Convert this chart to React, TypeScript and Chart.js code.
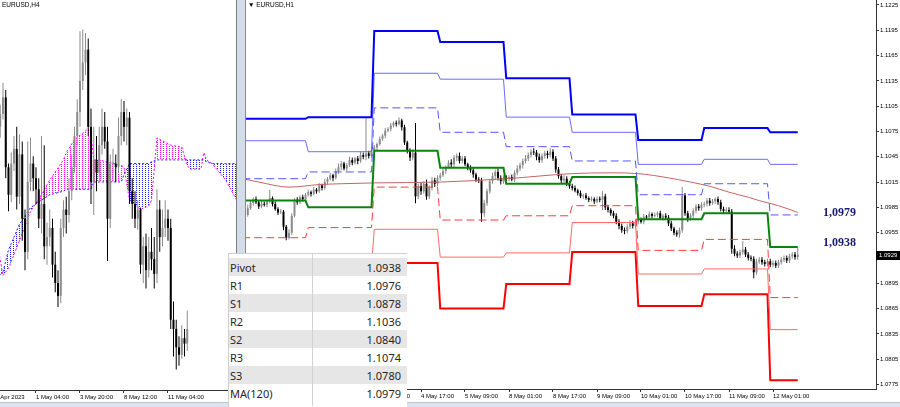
import React, { useEffect, useRef } from 'react';
import { Chart, registerables } from 'chart.js';

Chart.register(...registerables);

// ================= LEFT: EURUSD H4 =================
// bar index k: 0 = 1 May 04:00 (4-hour bars)
const h4FirstBar = -14;
const h4FirstOpen = 1.1036;
const h4Close = [
  1.1040,
  1.1047, 1.1056, 1.1018, 1.1003, 1.1020, 1.1028,
  1.1002, 1.1025, 1.0990, 1.0972, 1.1010, 1.1020,
  1.1012, 1.1006, 1.0990, 1.0998, 1.0975, 1.0980,
  1.0985, 1.0965, 1.0955, 1.0948, 1.0985, 1.0995,
  1.0992, 1.1005, 1.1018, 1.1035, 1.1048, 1.1065,
  1.1075, 1.1082, 1.1040, 1.1010, 1.1022, 1.1015,
  1.1030, 1.1040, 1.1032, 1.0990, 1.1020, 1.1020,
  1.1018, 1.1035, 1.1048, 1.1040, 1.1045, 1.1005,
  1.0998, 1.0990, 1.0995, 1.0965, 1.0975, 1.0962,
  1.0972, 1.0968, 1.0960, 1.0995, 1.0980, 1.0985,
  1.0990, 1.0985, 1.0935, 1.0930, 1.0920, 1.0916,
  1.0925, 1.0922, 1.0930,
];
const h4High = [
  1.1048,
  1.1052, 1.1064, 1.1060, 1.1020, 1.1026, 1.1035,
  1.1040, 1.1036, 1.1032, 1.0995, 1.1032, 1.1034,
  1.1024, 1.1018, 1.1012, 1.1035, 1.1030, 1.0988,
  1.0995, 1.0990, 1.0972, 1.0962, 1.0990, 1.1000,
  1.1002, 1.1012, 1.1025, 1.1040, 1.1055, 1.1092,
  1.1093, 1.1091, 1.1088, 1.1050, 1.1040, 1.1035,
  1.1040, 1.1050, 1.1048, 1.1040, 1.1025, 1.1028,
  1.1025, 1.1045, 1.1055, 1.1054, 1.1050, 1.1048,
  1.1012, 1.1005, 1.1000, 1.0996, 1.0980, 1.0982,
  1.0980, 1.0985, 1.0980, 1.1006, 1.1000, 1.0995,
  1.1000, 1.0995, 1.0990, 1.0945, 1.0935, 1.0926,
  1.0932, 1.0930, 1.0940,
];
const h4Low = [
  1.1030,
  1.1034, 1.1044, 1.1012, 1.0994, 1.0999, 1.1016,
  1.0995, 1.0998, 1.0978, 1.0962, 1.0968, 1.1005,
  1.1005, 1.0998, 1.0985, 1.0982, 1.0968, 1.0965,
  1.0975, 1.0958, 1.0950, 1.0942, 1.0944, 1.0980,
  1.0982, 1.0988, 1.1000, 1.1015, 1.1030, 1.1040,
  1.1060, 1.1068, 1.1035, 1.0998, 1.0992, 1.1005,
  1.1010, 1.1025, 1.1028, 1.0967, 1.0985, 1.1012,
  1.1010, 1.1015, 1.1030, 1.1032, 1.1030, 1.0998,
  1.0990, 1.0985, 1.0984, 1.0960, 1.0955, 1.0952,
  1.0958, 1.0962, 1.0952, 1.0955, 1.0972, 1.0975,
  1.0980, 1.0978, 1.0930, 1.0915, 1.0908, 1.0910,
  1.0914, 1.0915, 1.0918,
];
const h4TickBars = [-16, 0, 16, 32, 48];
const h4TickLabels = ['26 Apr 2023', '1 May 04:00', '3 May 20:00', '8 May 12:00', '11 May 04:00'];
// Ichimoku cloud
const cloudBars = [-14, -12, -10, -6, -2, 2, 5, 10, 11, 14, 19, 20, 21, 23, 31, 32, 34, 38, 41, 42, 44, 49, 53, 55, 56, 60, 61, 62, 64, 69, 73, 75];
const spanA = [1.0976, 1.0959, 1.0963, 1.0978, 1.0994, 1.1003, 1.1011, 1.1022, 1.1026, 1.1033, 1.1039, 1.1036, 1.1022, 1.1022, 1.1019, 1.1018, 1.1000, 1.0995, 1.0997, 1.1000, 1.1034, 1.1030, 1.1029, 1.1019, 1.1017, 1.1017, 1.1026, 1.1022, 1.1020, 1.1011, 1.1000, 1.0994];
const spanB = [1.0958, 1.0961, 1.0973, 1.0987, 1.0996, 1.1000, 1.1003, 1.1005, 1.1006, 1.1006, 1.1006, 1.1006, 1.1010, 1.1010, 1.1010, 1.1014, 1.1020, 1.1020, 1.1020, 1.1021, 1.1022, 1.1022, 1.1022, 1.1022, 1.1022, 1.1022, 1.1022, 1.1021, 1.1020, 1.1020, 1.1020, 1.1020];

// ================= RIGHT: EURUSD H1 =================
// bar index i: 0 = 2 May 00:00 (hourly bars, 24 per day)
const h1FirstOpen = 1.0983;
const h1Close = [
  // 2 May
  1.0980, 1.0976, 1.0984, 1.0990, 1.0995, 1.0991, 1.0986, 1.0989, 1.0988, 1.0992, 1.0996, 1.0989, 1.0983, 1.0979, 1.0980, 1.0962, 1.0949, 1.0955, 1.0975, 1.0994, 1.0991, 1.0997, 1.0995, 1.1000,
  // 3 May
  1.1003, 1.1001, 1.1006, 1.1004, 1.1011, 1.1008, 1.1015, 1.1019, 1.1023, 1.1020, 1.1028, 1.1033, 1.1037, 1.1031, 1.1035, 1.1041, 1.1038, 1.1043, 1.1040, 1.1047, 1.1045, 1.1049, 1.1046, 1.1053,
  // 4 May
  1.1056, 1.1060, 1.1066, 1.1070, 1.1076, 1.1078, 1.1082, 1.1085, 1.1084, 1.1088, 1.1080, 1.1062, 1.1052, 1.1044, 1.1050, 1.0998, 1.1010, 1.1004, 1.1013, 1.0998, 1.1008, 1.1017, 1.1013, 1.1020,
  // 5 May
  1.1023, 1.1028, 1.1033, 1.1038, 1.1036, 1.1044, 1.1046, 1.1040, 1.1043, 1.1036, 1.1032, 1.1029, 1.1024, 1.1018, 1.1017, 1.0978, 1.0990, 1.1004, 1.1016, 1.1022, 1.1027, 1.1020, 1.1016, 1.1020,
  // 8 May
  1.1019, 1.1021, 1.1018, 1.1026, 1.1031, 1.1035, 1.1040, 1.1043, 1.1047, 1.1051, 1.1050, 1.1045, 1.1041, 1.1046, 1.1049, 1.1047, 1.1051, 1.1043, 1.1030, 1.1022, 1.1017, 1.1019, 1.1013, 1.1010,
  // 9 May
  1.1008, 1.1005, 1.1002, 1.0998, 1.0999, 1.0996, 1.0994, 1.0995, 1.0992, 1.0995, 1.0994, 1.0998, 1.0985, 1.0982, 1.0978, 1.0975, 1.0968, 1.0963, 1.0958, 1.0957, 1.0962, 1.0966, 1.0963, 1.0968,
  // 10 May
  1.0970, 1.0968, 1.0974, 1.0973, 1.0977, 1.0975, 1.0976, 1.0978, 1.0972, 1.0975, 1.0973, 1.0966, 1.0960, 1.0955, 1.0953, 1.0958, 1.0999, 1.0978, 1.0972, 1.0975, 1.0981, 1.0986, 1.0984, 1.0988,
  // 11 May
  1.0989, 1.0993, 1.0990, 1.0992, 1.0995, 1.0991, 1.0983, 1.0981, 1.0982, 1.0980, 1.0936, 1.0930, 1.0928, 1.0932, 1.0935, 1.0929, 1.0925, 1.0924, 1.0908, 1.0921, 1.0923, 1.0920, 1.0918, 1.0921,
  // 12 May
  1.0917, 1.0919, 1.0916, 1.0920, 1.0923, 1.0925, 1.0922, 1.0927, 1.0929, 1.0926, 1.0929,
];
// upper / lower shadow lengths in pips
const h1WickUp = [
  3, 2, 4, 3, 2, 3, 2, 4, 3, 2, 10, 2, 3, 2, 3, 2, 2, 4, 3, 2, 3, 2, 3, 2,
  3, 2, 3, 2, 3, 2, 4, 2, 3, 2, 3, 4, 3, 2, 3, 4, 3, 2, 3, 4, 3, 43, 3, 4,
  3, 2, 3, 2, 3, 2, 3, 2, 3, 4, 2, 3, 2, 3, 4, 35, 3, 4, 3, 5, 3, 4, 3, 3,
  3, 3, 2, 3, 4, 3, 3, 4, 3, 3, 2, 3, 3, 2, 3, 3, 4, 3, 3, 4, 3, 4, 3, 3,
  3, 2, 3, 3, 4, 3, 3, 4, 3, 3, 4, 3, 4, 3, 3, 3, 4, 3, 3, 3, 3, 4, 3, 3,
  3, 3, 2, 3, 2, 3, 2, 3, 2, 3, 3, 6, 3, 3, 2, 3, 3, 3, 3, 3, 3, 4, 3, 3,
  3, 3, 3, 2, 3, 2, 3, 2, 3, 2, 3, 3, 3, 2, 3, 3, 10, 3, 3, 3, 3, 3, 3, 3,
  3, 3, 3, 3, 2, 3, 3, 3, 3, 3, 3, 4, 3, 3, 10, 3, 3, 3, 3, 3, 3, 3, 3, 3,
  3, 3, 3, 3, 3, 3, 3, 3, 3, 3, 8,
];
const h1WickDown = [
  2, 3, 2, 2, 3, 2, 3, 2, 2, 3, 2, 3, 2, 3, 2, 4, 3, 2, 3, 2, 3, 2, 3, 2,
  2, 3, 2, 3, 2, 3, 2, 3, 2, 4, 2, 3, 4, 2, 3, 2, 3, 2, 4, 2, 3, 4, 3, 2,
  2, 3, 2, 2, 3, 2, 3, 2, 3, 2, 4, 3, 3, 4, 3, 8, 3, 4, 3, 4, 3, 3, 4, 3,
  3, 2, 3, 2, 3, 3, 4, 3, 3, 2, 3, 3, 4, 3, 3, 10, 4, 3, 3, 3, 4, 3, 4, 3,
  3, 3, 2, 3, 3, 3, 4, 3, 3, 3, 3, 4, 3, 3, 3, 4, 3, 3, 4, 3, 4, 3, 3, 3,
  3, 2, 3, 2, 3, 2, 3, 2, 3, 2, 3, 12, 3, 3, 3, 3, 3, 4, 3, 4, 3, 3, 3, 3,
  3, 2, 3, 3, 2, 3, 2, 3, 2, 3, 3, 3, 3, 3, 3, 4, 3, 3, 4, 3, 3, 3, 3, 3,
  3, 3, 3, 2, 3, 3, 3, 3, 3, 3, 6, 3, 3, 3, 3, 3, 3, 3, 7, 3, 3, 3, 3, 3,
  3, 3, 3, 3, 3, 3, 3, 3, 3, 3, 3,
];
const h1TickBars = [1, 17, 33, 49, 65, 81, 97, 113, 129, 145, 161, 177, 193];
const h1TickLabels = ['2 May 01:00', '2 May 17:00', '3 May 09:00', '4 May 01:00', '4 May 17:00', '5 May 09:00', '8 May 01:00', '8 May 17:00', '9 May 09:00', '10 May 01:00', '10 May 17:00', '11 May 09:00', '12 May 01:00'];
const priceTicks = [1.1225, 1.1195, 1.1165, 1.1135, 1.1105, 1.1075, 1.1045, 1.1015, 1.0985, 1.0955, 1.0925, 1.0895, 1.0865, 1.0835, 1.0805, 1.0775];

// daily pivot levels: 2,3,4,5,8,9,10,11,12 May
const r3 = [1.1090, 1.1092, 1.1194, 1.1181, 1.1138, 1.1095, 1.1065, 1.1079, 1.1074];
const r2 = [1.1064, 1.1051, 1.1144, 1.1137, 1.1092, 1.1074, 1.1036, 1.1042, 1.1036];
const r1 = [1.1019, 1.1027, 1.1103, 1.1074, 1.1057, 1.1040, 1.1000, 1.1013, 1.0976];
const pivot = [1.0993, 1.0985, 1.1052, 1.1032, 1.1013, 1.1021, 1.0971, 1.0978, 1.0938];
const s1 = [1.0949, 1.0961, 1.1009, 1.0970, 1.0975, 1.0987, 1.0934, 1.0947, 1.0878];
const s2 = [1.0910, 1.0915, 1.0959, 1.0926, 1.0931, 1.0967, 1.0906, 1.0912, 1.0840];
const s3 = [1.0880, 1.0870, 1.0919, 1.0865, 1.0894, 1.0932, 1.0868, 1.0882, 1.0780];

// MA(120)
const maBars = [0, 6, 17, 28, 36, 48, 72, 96, 120, 134, 144, 155, 163, 170, 177, 184, 188, 195, 202];
const maValues = [1.1019, 1.1015, 1.1009, 1.1012, 1.1013, 1.1014, 1.1015, 1.1019, 1.1025, 1.1026, 1.1025, 1.1020, 1.1015, 1.1010, 1.1003, 1.0997, 1.0993, 1.0987, 1.0979];

const markTexts = ['1,0979', '1,0938'];
const markValues = [1.0979, 1.0938];

const tableNames = ['Pivot', 'R1', 'S1', 'R2', 'S2', 'R3', 'S3', 'MA(120)'];
const tableValues = ['1.0938', '1.0976', '1.0878', '1.1036', '1.0840', '1.1074', '1.0780', '1.0979'];

// ================= helpers =================
const UP = '#8c8c8c';
const DOWN = '#000000';
const AXIS_FONT = { family: '"Liberation Sans", Arial, sans-serif', size: 6 };

function buildCandles(firstBar: number, firstOpen: number, close: number[], highOf: (n: number, o: number, c: number) => number, lowOf: (n: number, o: number, c: number) => number) {
  const wicks: any[] = [];
  const bodies: any[] = [];
  const colors: string[] = [];
  let open = firstOpen;
  close.forEach((c, n) => {
    const x = firstBar + n;
    const hi = Math.max(highOf(n, open, c), open, c);
    const lo = Math.min(lowOf(n, open, c), open, c);
    wicks.push({ x, y: [lo, hi] });
    bodies.push({ x, y: [Math.min(open, c), Math.max(open, c)] });
    colors.push(c >= open ? UP : DOWN);
    open = c;
  });
  return { wicks, bodies, colors };
}

function stepPoints(levels: number[], lastBar: number) {
  const pts: any[] = [];
  levels.forEach((v, d) => {
    const a = d * 24;
    const b = Math.min(a + 23, lastBar);
    pts.push({ x: a, y: v }, { x: b, y: v });
  });
  return pts;
}

function dotPattern(ctx: CanvasRenderingContext2D, color: string) {
  const c = document.createElement('canvas');
  c.width = 3;
  c.height = 2;
  const g = c.getContext('2d')!;
  g.fillStyle = color;
  g.fillRect(0, 0, 1, 1);
  return ctx.createPattern(c, 'repeat');
}

function zeroPad(s: any) {
  s.paddingLeft = 0;
  s.paddingRight = 0;
  s.paddingTop = 0;
  s.paddingBottom = 0;
}

const LEFT_W = 256;
const RIGHT_W = 655;
const CANVAS_H = 402;

export default function App() {
  const leftRef = useRef<HTMLCanvasElement>(null);
  const rightRef = useRef<HTMLCanvasElement>(null);

  useEffect(() => {
    document.body.style.margin = '0';
    const lc = leftRef.current!;
    const rc = rightRef.current!;
    const lctx = lc.getContext('2d')!;

    // ---------- left chart ----------
    const h4 = buildCandles(h4FirstBar, h4FirstOpen, h4Close, (n) => h4High[n], (n) => h4Low[n]);
    const aPts = cloudBars.map((k, n) => ({ x: k, y: spanA[n] }));
    const bPts = cloudBars.map((k, n) => ({ x: k, y: spanB[n] }));
    const left = new Chart(lc, {
      type: 'bar',
      data: {
        datasets: [
          {
            type: 'line', data: aPts, borderColor: '#ff00ff', borderWidth: 1, borderDash: [2, 2],
            pointRadius: 0, tension: 0, order: 5,
            fill: { target: 1, above: dotPattern(lctx, '#ff00ff'), below: dotPattern(lctx, '#2020ff') },
          } as any,
          {
            type: 'line', data: bPts, borderColor: '#2020ff', borderWidth: 1, borderDash: [2, 2],
            pointRadius: 0, tension: 0, order: 4, fill: false,
          } as any,
          {
            type: 'bar', data: h4.wicks, backgroundColor: h4.colors, barThickness: 1, grouped: false,
            borderWidth: 0, inflateAmount: 0, order: 2,
          } as any,
          {
            type: 'bar', data: h4.bodies, backgroundColor: h4.colors, barThickness: 2, grouped: false,
            borderWidth: 0, inflateAmount: 0, minBarLength: 1, order: 1,
          } as any,
        ],
      },
      options: {
        responsive: false, animation: false, devicePixelRatio: 1, events: [],
        layout: { padding: 0 },
        plugins: { legend: { display: false }, tooltip: { enabled: false } },
        scales: {
          x: {
            type: 'linear', min: -20.36, max: -20.36 + LEFT_W / 2.75, offset: false, bounds: 'data',
            afterBuildTicks: (s: any) => { s.ticks = h4TickBars.map((v) => ({ value: v })); },
            afterFit: (s: any) => { s.height = CANVAS_H - 390; zeroPad(s); },
            ticks: {
              autoSkip: false, maxRotation: 0, minRotation: 0, align: 'start', padding: 1,
              color: '#000', font: AXIS_FONT,
              callback: (_v: any, idx: number) => h4TickLabels[idx],
            },
            grid: { drawOnChartArea: false, drawTicks: true, tickLength: 3, color: '#333', offset: false },
            border: { display: true, color: '#333', width: 1 },
          },
          y: {
            type: 'linear', display: false, min: 1.08968, max: 1.1109, bounds: 'data',
          },
        },
      } as any,
    });

    // ---------- right chart ----------
    const h1 = buildCandles(
      0, h1FirstOpen, h1Close,
      (n, o, c) => Math.max(o, c) + h1WickUp[n] / 10000,
      (n, o, c) => Math.min(o, c) - h1WickDown[n] / 10000,
    );
    const lastBar = h1Close.length - 1;
    const lastClose = h1Close[lastBar];
    const line = (data: any[], color: string, width: number, dash: number[] = []) => ({
      type: 'line', data, borderColor: color, borderWidth: width, borderDash: dash,
      pointRadius: 0, tension: 0, fill: false, order: 0,
    });

    const annotations = {
      id: 'annotations',
      afterDraw(chart: any) {
        const { ctx, chartArea, scales } = chart;
        const y = scales.y;
        ctx.save();
        ctx.font = 'bold 12px "Liberation Serif", "Times New Roman", serif';
        ctx.fillStyle = '#1b1b6e';
        ctx.textAlign = 'left';
        ctx.textBaseline = 'middle';
        markTexts.forEach((t, n) => {
          const dy = n === 1 ? -4 : 0;
          ctx.fillText(t, chartArea.right - 53, y.getPixelForValue(markValues[n]) + dy);
        });
        const py = Math.round(y.getPixelForValue(lastClose));
        ctx.fillStyle = '#000';
        ctx.fillRect(chartArea.right, py - 4, 24, 9);
        ctx.fillStyle = '#fff';
        ctx.font = '6px "Liberation Sans", Arial, sans-serif';
        ctx.fillText(lastClose.toFixed(4), chartArea.right + 3, py + 0.5);
        ctx.restore();
      },
    };

    const right = new Chart(rc, {
      type: 'bar',
      data: {
        datasets: [
          line(stepPoints(r3, lastBar), '#0000ff', 2),
          line(stepPoints(r2, lastBar), '#6a6aff', 1),
          line(stepPoints(r1, lastBar), '#5555ff', 1, [8, 4]),
          line(stepPoints(pivot, lastBar), '#0a840a', 2),
          line(stepPoints(s1, lastBar), '#ff3b3b', 1, [8, 4]),
          line(stepPoints(s2, lastBar), '#ff6a6a', 1),
          line(stepPoints(s3, lastBar), '#ff0000', 2),
          {
            type: 'line', data: maBars.map((b, n) => ({ x: b, y: maValues[n] })), borderColor: '#c46565',
            borderWidth: 1, pointRadius: 0, cubicInterpolationMode: 'monotone', fill: false, order: 0,
          },
          {
            type: 'bar', data: h1.wicks, backgroundColor: h1.colors, barThickness: 1, grouped: false,
            borderWidth: 0, inflateAmount: 0, order: 2,
          },
          {
            type: 'bar', data: h1.bodies, backgroundColor: h1.colors, barThickness: 2, grouped: false,
            borderWidth: 0, inflateAmount: 0, minBarLength: 1, order: 1,
          },
        ] as any,
      },
      options: {
        responsive: false, animation: false, devicePixelRatio: 1, events: [],
        layout: { padding: 0 },
        plugins: { legend: { display: false }, tooltip: { enabled: false } },
        scales: {
          x: {
            type: 'linear', min: 1, max: 1 + (RIGHT_W - 24) / 2.75, offset: false, bounds: 'data',
            afterBuildTicks: (s: any) => { s.ticks = h1TickBars.map((v) => ({ value: v })); },
            afterFit: (s: any) => { s.height = CANVAS_H - 389; zeroPad(s); },
            ticks: {
              autoSkip: false, maxRotation: 0, minRotation: 0, align: 'start', padding: 1,
              color: '#000', font: AXIS_FONT,
              callback: (_v: any, idx: number) => h1TickLabels[idx],
            },
            grid: { drawOnChartArea: false, drawTicks: true, tickLength: 3, color: '#333', offset: false },
            border: { display: true, color: '#333', width: 1 },
          },
          y: {
            type: 'linear', position: 'right', min: 1.07696, max: 1.12309, bounds: 'data',
            afterBuildTicks: (s: any) => { s.ticks = priceTicks.map((v) => ({ value: v })); },
            afterFit: (s: any) => { s.width = 24; zeroPad(s); },
            ticks: {
              autoSkip: false, padding: 1, color: '#000', font: AXIS_FONT,
              callback: (v: any) => Number(v).toFixed(4),
            },
            grid: { drawOnChartArea: false, drawTicks: true, tickLength: 3, color: '#333' },
            border: { display: true, color: '#333', width: 1 },
          },
        },
      } as any,
      plugins: [annotations],
    });

    return () => {
      left.destroy();
      right.destroy();
    };
  }, []);

  const titleStyle: React.CSSProperties = {
    position: 'absolute', top: 0, fontFamily: '"Liberation Sans", Arial, sans-serif', fontSize: 6.5,
    lineHeight: '10px', color: '#000', whiteSpace: 'nowrap',
  };

  return (
    <div style={{ position: 'fixed', left: 0, top: 0, width: 900, height: 407, overflow: 'hidden', background: '#fff' }}>
      <canvas ref={leftRef} width={LEFT_W} height={CANVAS_H} style={{ position: 'absolute', left: -20, top: 0 }} />
      <canvas ref={rightRef} width={RIGHT_W} height={CANVAS_H} style={{ position: 'absolute', left: 245, top: 0 }} />
      <div style={{ ...titleStyle, left: 2 }}>EURUSD,H4</div>
      <div style={{ ...titleStyle, left: 248 }}>▼ EURUSD,H1</div>
      {/* window splitter */}
      <div style={{
        position: 'absolute', left: 236, top: 0, width: 10, height: 403, boxSizing: 'border-box',
        background: '#d3dde9', borderLeft: '1px solid #7c7c7c', borderRight: '1px solid #8a8a8a',
      }} />
      {/* bottom tab strip */}
      <div style={{ position: 'absolute', left: 0, top: 402, width: 900, height: 5, background: '#dbe5f1', borderTop: '1px solid #b8c6d6', boxSizing: 'border-box' }} />
      {/* pivot table */}
      <div style={{
        position: 'absolute', left: 228, top: 253, width: 179, height: 154, background: '#fff',
        borderLeft: '1px solid #cfcfcf', borderTop: '1px solid #cfcfcf', boxSizing: 'border-box',
        fontFamily: '"Noto Sans", "Liberation Sans", sans-serif', fontSize: 11, color: '#262626',
      }}>
        {tableNames.map((name, i) => (
          <div key={name} style={{
            position: 'absolute', left: 0, top: 4 + i * 18, width: 178, height: 18,
            background: i % 2 === 0 ? '#e6e6e6' : '#ffffff', display: 'flex', alignItems: 'center',
          }}>
            <span style={{ width: 83, paddingLeft: 1, boxSizing: 'border-box' }}>{name}</span>
            <span style={{ width: 95, textAlign: 'right', paddingRight: 6, boxSizing: 'border-box' }}>{tableValues[i]}</span>
          </div>
        ))}
        <div style={{ position: 'absolute', left: 83, top: 0, width: 1, height: 152, background: '#d2d2d2' }} />
      </div>
    </div>
  );
}
